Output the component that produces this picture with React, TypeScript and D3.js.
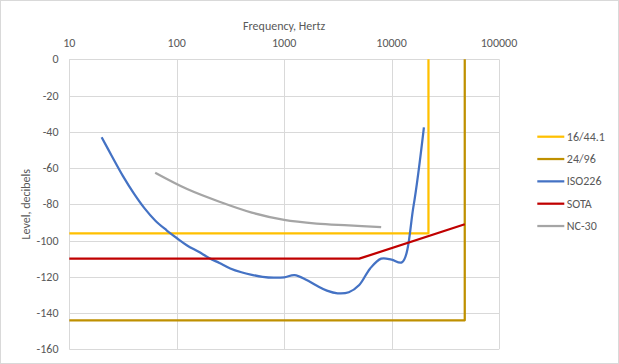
import React, { useEffect, useRef } from "react";
import * as d3 from "d3";

// ISO226 threshold curve (1/3 octave)
const isoFreq = [
  20, 25, 31.5, 40, 50, 63, 80, 100, 125, 160, 200, 250, 315, 400, 500, 630,
  800, 1000, 1250, 1600, 2000, 2500, 3150, 4000, 5000, 6300, 8000, 10000,
  12500, 16000, 20000,
];
const isoLevel = [
  -43, -53.6, -64.3, -74.1, -82.1, -88.9, -94.2, -98.6, -102.7, -106.2,
  -109.6, -112.4, -115.4, -117.5, -118.9, -120, -120.5, -120.3, -119.1,
  -121.6, -124.8, -127.6, -129.1, -128.5, -124.5, -115.5, -110, -110.5, -112,
  -81, -37.5,
];

// NC-30 noise criterion curve (octave bands)
const ncFreq = [63, 125, 250, 500, 1000, 2000, 4000, 8000];
const ncLevel = [-62.6, -71.6, -78.6, -84.6, -88.6, -90.6, -91.6, -92.6];

// state of the art noise floor
const sotaFreq = [10, 5000, 48000];
const sotaLevel = [-110, -110, -91];

// 16 bit / 44.1 kHz box
const cdFreq = [10, 22050, 22050];
const cdLevel = [-96, -96, 0];

// 24 bit / 96 kHz box
const hiresFreq = [10, 48000, 48000];
const hiresLevel = [-144, -144, 0];

const xTicks = [10, 100, 1000, 10000, 100000];
const yTicks = [0, -20, -40, -60, -80, -100, -120, -140, -160];

const seriesNames = ["16/44.1", "24/96", "ISO226", "SOTA", "NC-30"];
const seriesColors = ["#FFC000", "#BF9000", "#4472C4", "#C00000", "#A5A5A5"];

const FONT = "Calibri, Carlito, 'Liberation Sans', Arial, sans-serif";

const App = () => {
  const svgRef = useRef<SVGSVGElement>(null);

  useEffect(() => {
    const width = 619;
    const height = 364;
    const margin = { top: 59.3, right: 120, bottom: 14.7, left: 69.3 };

    const svg = d3.select(svgRef.current);
    svg.selectAll("*").remove();
    svg.attr("width", width).attr("height", height);

    // chart frame
    svg
      .append("rect")
      .attr("x", 0.5)
      .attr("y", 0.5)
      .attr("width", width - 1)
      .attr("height", height - 1)
      .attr("fill", "#fff")
      .attr("stroke", "#D9D9D9");

    const x = d3
      .scaleLog()
      .domain([10, 100000])
      .range([margin.left, width - margin.right]);

    const y = d3
      .scaleLinear()
      .domain([0, -160])
      .range([margin.top, height - margin.bottom]);

    // grid
    const grid = svg.append("g");
    grid
      .selectAll("line.h")
      .data(yTicks)
      .enter()
      .append("line")
      .attr("x1", x(10))
      .attr("x2", x(100000))
      .attr("y1", (d) => Math.round(y(d)) + 0.5)
      .attr("y2", (d) => Math.round(y(d)) + 0.5)
      .attr("stroke", "#D9D9D9");
    grid
      .selectAll("line.v")
      .data(xTicks)
      .enter()
      .append("line")
      .attr("y1", y(0))
      .attr("y2", y(-160))
      .attr("x1", (d) => Math.round(x(d)) + 0.5)
      .attr("x2", (d) => Math.round(x(d)) + 0.5)
      .attr("stroke", "#D9D9D9");

    // tick labels
    svg
      .append("g")
      .selectAll("text")
      .data(xTicks)
      .enter()
      .append("text")
      .attr("x", (d) => x(d))
      .attr("y", 47)
      .attr("text-anchor", "middle")
      .attr("font-family", FONT)
      .attr("font-size", 12)
      .attr("fill", "#595959")
      .text((d) => String(d));

    svg
      .append("g")
      .selectAll("text")
      .data(yTicks)
      .enter()
      .append("text")
      .attr("x", 58.5)
      .attr("y", (d) => y(d) + 4)
      .attr("text-anchor", "end")
      .attr("font-family", FONT)
      .attr("font-size", 12)
      .attr("fill", "#595959")
      .text((d) => String(d));

    // axis titles
    svg
      .append("text")
      .attr("x", (x(10) + x(100000)) / 2)
      .attr("y", 30)
      .attr("text-anchor", "middle")
      .attr("font-family", FONT)
      .attr("font-size", 12)
      .attr("fill", "#595959")
      .text("Frequency, Hertz");

    svg
      .append("text")
      .attr("transform", `translate(30,${(y(0) + y(-160)) / 2}) rotate(-90)`)
      .attr("text-anchor", "middle")
      .attr("font-family", FONT)
      .attr("font-size", 12)
      .attr("fill", "#595959")
      .text("Level, decibels");

    const toPoints = (fs: number[], ls: number[]) =>
      fs.map((f, i) => [f, ls[i]] as [number, number]);

    const straight = d3
      .line<[number, number]>()
      .x((d) => x(d[0]))
      .y((d) => y(d[1]));

    const smooth = d3
      .line<[number, number]>()
      .x((d) => x(d[0]))
      .y((d) => y(d[1]))
      .curve(d3.curveCatmullRom.alpha(0.5));

    const series = [
      { pts: toPoints(cdFreq, cdLevel), gen: straight },
      { pts: toPoints(hiresFreq, hiresLevel), gen: straight },
      { pts: toPoints(isoFreq, isoLevel), gen: smooth },
      { pts: toPoints(sotaFreq, sotaLevel), gen: straight },
      { pts: toPoints(ncFreq, ncLevel), gen: smooth },
    ];

    // draw order matches the reference stacking
    series.forEach((s, i) => {
      svg
        .append("path")
        .datum(s.pts)
        .attr("fill", "none")
        .attr("stroke", seriesColors[i])
        .attr("stroke-width", 2.25)
        .attr("stroke-linejoin", "round")
        .attr("d", s.gen);
    });

    // legend
    const legend = svg
      .append("g")
      .selectAll("g")
      .data(seriesNames)
      .enter()
      .append("g")
      .attr("transform", (d, i) => `translate(537.3,${136.7 + i * 22.33})`);
    legend
      .append("line")
      .attr("x1", 0)
      .attr("x2", 27)
      .attr("stroke", (d, i) => seriesColors[i])
      .attr("stroke-width", 2.25);
    legend
      .append("text")
      .attr("x", 29.5)
      .attr("y", 4)
      .attr("font-family", FONT)
      .attr("font-size", 12)
      .attr("fill", "#595959")
      .text((d) => d);
  }, []);

  return (
    <div style={{ position: "absolute", left: 0, top: 0 }}>
      <svg ref={svgRef}></svg>
    </div>
  );
};

export default App;
